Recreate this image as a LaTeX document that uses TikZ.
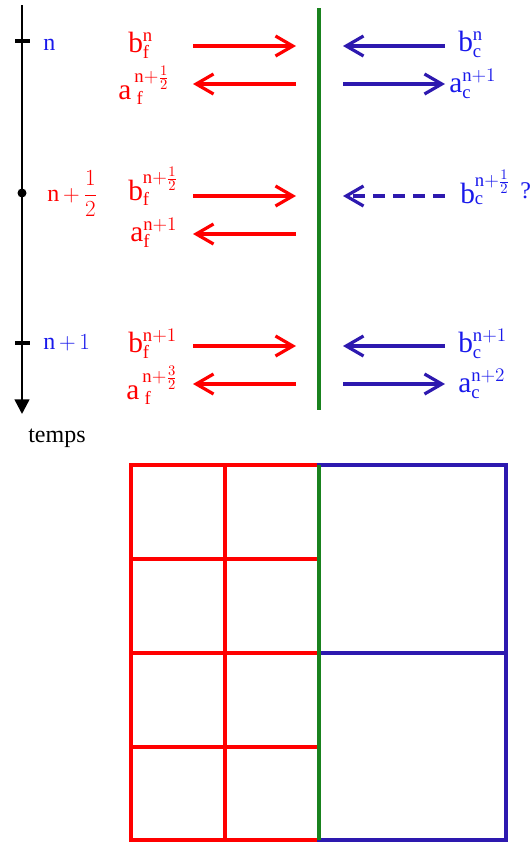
\documentclass[tikz,border=0pt]{standalone}
\usepackage{fontspec}
\setmainfont{Liberation Serif}
\setmathrm{Liberation Serif}
\DeclareMathSizes{22}{22}{14}{10.5}
\DeclareMathSizes{18}{18}{12}{9}
\usetikzlibrary{arrows.meta}
\definecolor{rouge}{RGB}{255,0,0}
\definecolor{bleu}{RGB}{45,25,175}
\definecolor{bleuclair}{RGB}{25,25,235}
\definecolor{vert}{RGB}{25,130,30}
\tikzset{
  flf/.style={rouge,line width=2.4pt,-{Straight Barb[length=13pt,width=15pt]}},
  flc/.style={bleu,line width=2.4pt,-{Straight Barb[length=13pt,width=15pt]}},
  lab/.style={inner sep=0pt,anchor=base west,font=\fontsize{22}{26}\selectfont},
  temps/.style={inner sep=0pt,anchor=base west,font=\fontsize{18}{22}\selectfont},
  grille/.style={line width=2.8pt,line cap=rect},
}
\begin{document}
\begin{tikzpicture}[x=0.75pt,y=-0.75pt]
\useasboundingbox (0,0) rectangle (532,843);
% axe du temps
\coordinate (t0) at (22,5);
\coordinate (t1) at (22,414);
\draw[line width=1.9pt,-{Triangle[length=11pt,width=11pt]}] (t0) -- (t1);
\draw[line width=2.3pt] (15,41) -- (30,41);
\draw[line width=2.3pt] (15,343) -- (30,343);
\fill (22,193) circle (4.5);
\node[temps,bleuclair] (tn) at (43,50) {$\mathrm{n}$};
\node[temps,rouge] (tdemi) at (47,201) {$\mathrm{n}\,{+}\,{\displaystyle\frac{1}{2}}$};
\node[temps,bleuclair] (tun) at (43,349) {$\mathrm{n}\,{+}\,1$};
\node[temps] (temps) at (28,442) {temps};
% interface
\coordinate (ih) at (319,8);
\coordinate (ib) at (319,410);
\draw[vert,line width=3pt] (ih) -- (ib);
% fleches
\foreach \i/\y in {0/46,1/196,2/346}{
  \coordinate (fhg\i) at (193,\y);
  \coordinate (fhd\i) at (296,\y);
  \coordinate (fbg\i) at (193,\y+38);
  \coordinate (fbd\i) at (296,\y+38);
  \coordinate (chg\i) at (343,\y);
  \coordinate (chd\i) at (445,\y);
  \coordinate (cbg\i) at (343,\y+38);
  \coordinate (cbd\i) at (445,\y+38);
  \draw[flf] (fhg\i) -- (fhd\i);
  \draw[flf] (fbd\i) -- (fbg\i);
}
\draw[flc] (chd0) -- (chg0);
\draw[flc] (cbg0) -- (cbd0);
\draw[flc,dash pattern=on 9pt off 6pt] (chd1) -- (chg1);
\draw[flc] (chd2) -- (chg2);
\draw[flc] (cbg2) -- (cbd2);
% fin
\node[lab,rouge] (bf0) at (128,52) {$\mathrm{b}_{\mathrm{f}}^{\mathrm{n}}$};
\node[lab,rouge] (af0) at (118,99) {$\mathrm{a}^{\,\mathrm{n}+\frac{1}{2}}_{\;\mathrm{f}}$};
\node[lab,rouge] (bf1) at (128,200) {$\mathrm{b}_{\mathrm{f}}^{\mathrm{n}+\frac{1}{2}}$};
\node[lab,rouge] (af1) at (130,241) {$\mathrm{a}_{\mathrm{f}}^{\mathrm{n}+1}$};
\node[lab,rouge] (bf2) at (128,352) {$\mathrm{b}_{\mathrm{f}}^{\mathrm{n}+1}$};
\node[lab,rouge] (af2) at (126,399) {$\mathrm{a}^{\,\mathrm{n}+\frac{3}{2}}_{\;\mathrm{f}}$};
% grossier
\node[lab,bleuclair] (bc0) at (458,51) {$\mathrm{b}_{\mathrm{c}}^{\mathrm{n}}$};
\node[lab,bleuclair] (ac0) at (449,92) {$\mathrm{a}_{\mathrm{c}}^{\mathrm{n}+1}$};
\node[lab,bleuclair] (bc1) at (460,203) {$\mathrm{b}_{\mathrm{c}}^{\mathrm{n}+\frac{1}{2}}$};
\node[temps,bleuclair] (qu) at (520,198) {?};
\node[lab,bleuclair] (bc2) at (458,352) {$\mathrm{b}_{\mathrm{c}}^{\mathrm{n}+1}$};
\node[lab,bleuclair] (ac2) at (458,392) {$\mathrm{a}_{\mathrm{c}}^{\mathrm{n}+2}$};
% maillages
\draw[rouge,grille] (131,465) rectangle (319,840);
\draw[rouge,grille] (225,465) -- (225,840);
\foreach \y in {559,653,747}
  \draw[rouge,grille] (131,\y) -- (319,\y);
\draw[bleu,grille] (319,465) rectangle (506,840);
\draw[bleu,grille] (319,653) -- (506,653);
\draw[vert,line width=3.2pt] (319,465) -- (319,840);
\end{tikzpicture}
\end{document}
